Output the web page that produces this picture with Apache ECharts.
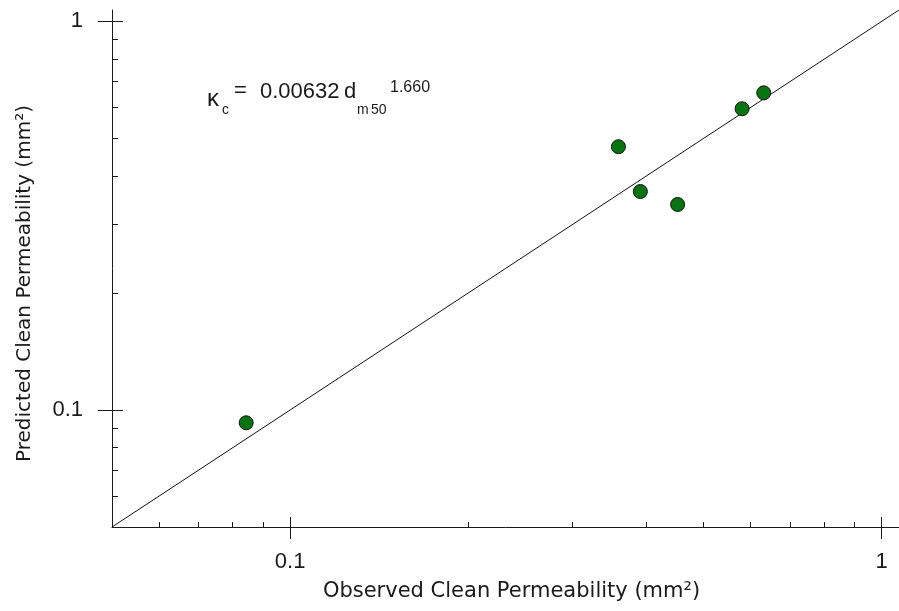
<!DOCTYPE html>
<html>
<head>
<meta charset="utf-8">
<script src="https://cdn.jsdelivr.net/npm/echarts@6/dist/echarts.min.js"></script>
<style>
  html, body { margin: 0; padding: 0; background: #fff; }
  #chart { width: 899px; height: 611px; }
</style>
</head>
<body>
<div id="chart"></div>
<script>
// observed vs predicted clean permeability (mm2)
var observed  = [0.0843, 0.359, 0.391, 0.452, 0.581, 0.632];
var predicted = [0.0927, 0.476, 0.365, 0.338, 0.596, 0.655];
// 1:1 line, drawn across the whole axis range
var lineEnds = [0.05, 1.07];
var axisMin = 0.05, axisMax = 1.07;
var majorTicks = [0.1, 1];
var minorTicks = [0.06, 0.07, 0.08, 0.09, 0.2, 0.3, 0.4, 0.5, 0.6, 0.7, 0.8, 0.9];

var chart = echarts.init(document.getElementById('chart'));
var font = 'Liberation Sans, Arial, sans-serif';
var titleFont = 'DejaVu Sans, Verdana, sans-serif';
var ink = '#1a1a1a';

function fmt(v) { return v >= 1 ? '1' : String(+v.toFixed(2)); }

function logAxis(pos, extra) {
    var a = {
        type: 'log', logBase: 10, min: axisMin, max: axisMax, position: pos,
        splitLine: { show: false },
        axisLine: { show: false, lineStyle: { color: ink, width: 1 } },
        axisTick: { show: false },
        axisLabel: { show: false },
        minorTick: { show: false }
    };
    for (var k in extra) a[k] = extra[k];
    return a;
}

var pts = [];
for (var i = 0; i < observed.length; i++) pts.push([observed[i], predicted[i]]);

// equation label  k_c = 0.00632 d_m50 ^1.660  (pixel spots of each piece)
var eqParts = [
    { t: 'κ', x: 207, y: 99, size: 24 },
    { t: 'c', x: 222, y: 110, size: 14 },
    { t: '=', x: 234, y: 91, size: 22 },
    { t: '0.00632', x: 260, y: 92, size: 22 },
    { t: 'd', x: 344, y: 92, size: 22 },
    { t: 'm', x: 357, y: 110, size: 14 },
    { t: '50', x: 371, y: 110, size: 14 },
    { t: '1.660', x: 390, y: 88, size: 16 }
];
var eqGraphic = eqParts.map(function (p) {
    return {
        type: 'text', x: p.x, y: p.y, silent: true,
        style: { text: p.t, fontSize: p.size, fontFamily: font, fill: ink, align: 'left', verticalAlign: 'middle' }
    };
});

chart.setOption({
    animation: false,
    textStyle: { fontFamily: font },
    grid: { left: 112, right: 0, top: 10, bottom: 84, containLabel: false },
    xAxis: [
        logAxis('bottom', {
            axisLine: { show: true, lineStyle: { color: ink, width: 1 } },
            axisTick: { show: true, inside: false, length: 12, customValues: majorTicks, lineStyle: { color: ink } },
            axisLabel: { show: true, customValues: majorTicks, margin: 24, color: ink, fontSize: 22, fontFamily: font, formatter: fmt },
            name: 'Observed Clean Permeability (mm²)',
            nameLocation: 'middle', nameGap: 54,
            nameTextStyle: { color: ink, fontSize: 21, fontFamily: titleFont, padding: [0, 0, 0, 12] }
        }),
        logAxis('bottom', {
            axisTick: { show: true, inside: true, length: 10, customValues: majorTicks, lineStyle: { color: ink } }
        }),
        logAxis('bottom', {
            axisTick: { show: true, inside: true, length: 5, customValues: minorTicks, lineStyle: { color: ink } }
        })
    ],
    yAxis: [
        logAxis('left', {
            axisLine: { show: true, lineStyle: { color: ink, width: 1 } },
            axisTick: { show: true, inside: false, length: 14, customValues: majorTicks, lineStyle: { color: ink } },
            axisLabel: { show: true, customValues: majorTicks, margin: 29, color: ink, fontSize: 22, fontFamily: font, formatter: fmt },
            name: 'Predicted Clean Permeability (mm²)',
            nameLocation: 'middle', nameGap: 77,
            nameTextStyle: { color: ink, fontSize: 20, fontFamily: titleFont, padding: [0, 30, 0, 0] }
        }),
        logAxis('left', {
            axisTick: { show: true, inside: true, length: 11, customValues: majorTicks, lineStyle: { color: ink } }
        }),
        logAxis('left', {
            axisTick: { show: true, inside: true, length: 6, customValues: minorTicks, lineStyle: { color: ink } }
        })
    ],
    series: [
        {
            type: 'line',
            data: [[lineEnds[0], lineEnds[0]], [lineEnds[1], lineEnds[1]]],
            symbol: 'none',
            lineStyle: { color: '#111', width: 1 },
            silent: true,
            z: 2
        },
        {
            type: 'scatter',
            data: pts,
            symbol: 'circle',
            symbolSize: 14,
            itemStyle: { color: '#08740f', borderColor: '#111', borderWidth: 1, opacity: 1 },
            z: 3
        }
    ],
    graphic: eqGraphic
});
</script>
</body>
</html>
